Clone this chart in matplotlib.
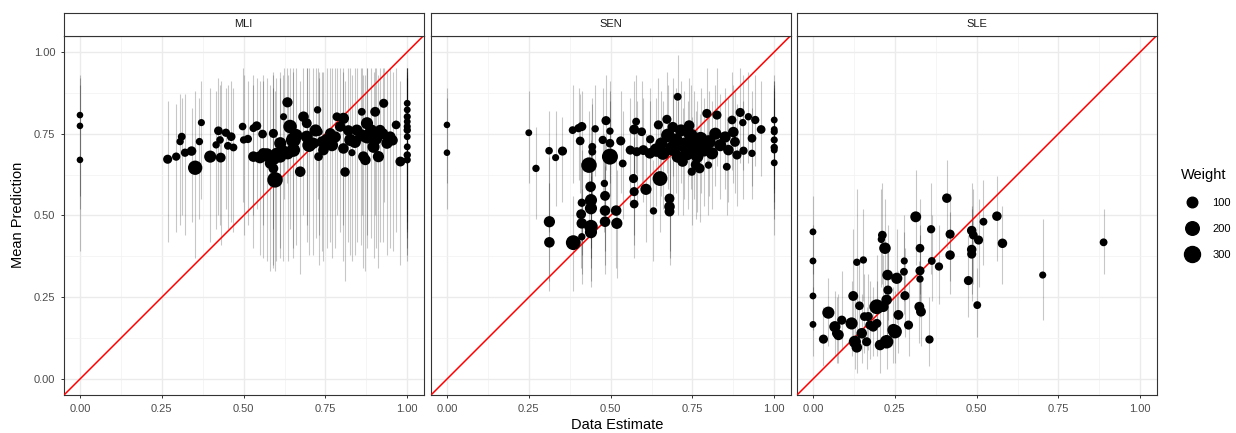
import matplotlib
matplotlib.use("Agg")
import matplotlib.pyplot as plt
from matplotlib.lines import Line2D
import numpy as np

plt.rcParams['font.family'] = ['Liberation Sans', 'DejaVu Sans']

panels = ["MLI", "SEN", "SLE"]

# MLI: data estimate, mean prediction, weight, interval low / high
mli_x = [0.000, 0.000, 0.000, 0.268, 0.294, 0.306, 0.311, 0.321, 0.341, 0.352,
         0.365, 0.371, 0.398, 0.416, 0.423, 0.428, 0.430, 0.446, 0.452, 0.462,
         0.469, 0.497, 0.500, 0.513, 0.530, 0.530, 0.540, 0.550, 0.558, 0.571,
         0.581, 0.591, 0.591, 0.591, 0.596, 0.612, 0.612, 0.622, 0.634, 0.642,
         0.652, 0.652, 0.673, 0.683, 0.693, 0.693, 0.713, 0.726, 0.729, 0.729,
         0.744, 0.754, 0.765, 0.785, 0.795, 0.805, 0.805, 0.810, 0.826, 0.831,
         0.846, 0.861, 0.866, 0.872, 0.877, 0.877, 0.897, 0.902, 0.912, 0.917,
         0.928, 0.938, 0.948, 0.966, 0.979, 1.000, 1.000, 1.000, 1.000, 1.000,
         1.000, 1.000, 1.000, 1.000, 1.000, 0.660, 0.700, 0.720, 0.740, 0.770,
         0.780, 0.820, 0.840, 0.860, 0.890, 0.905, 0.925, 0.955, 0.620, 0.635,
         0.600, 0.560]
mli_y = [0.807, 0.774, 0.670, 0.672, 0.680, 0.726, 0.741, 0.692, 0.697, 0.646,
         0.726, 0.784, 0.680, 0.716, 0.759, 0.731, 0.677, 0.753, 0.713, 0.741,
         0.708, 0.772, 0.731, 0.734, 0.767, 0.680, 0.774, 0.678, 0.749, 0.685,
         0.659, 0.751, 0.675, 0.644, 0.609, 0.680, 0.721, 0.802, 0.846, 0.772,
         0.731, 0.700, 0.634, 0.802, 0.782, 0.741, 0.721, 0.823, 0.756, 0.680,
         0.700, 0.731, 0.751, 0.802, 0.772, 0.797, 0.705, 0.633, 0.731, 0.692,
         0.761, 0.817, 0.680, 0.670, 0.782, 0.741, 0.710, 0.817, 0.680, 0.761,
         0.843, 0.721, 0.741, 0.777, 0.665, 0.843, 0.823, 0.802, 0.787, 0.772,
         0.761, 0.741, 0.710, 0.685, 0.670, 0.745, 0.715, 0.760, 0.725, 0.715,
         0.740, 0.760, 0.725, 0.745, 0.760, 0.735, 0.750, 0.730, 0.700, 0.690,
         0.690, 0.690]
mli_w = [5, 5, 5, 60, 40, 20, 30, 40, 70, 230,
         20, 15, 150, 20, 50, 25, 80, 40, 30, 50,
         30, 25, 20, 40, 30, 100, 60, 150, 50, 200,
         100, 60, 200, 80, 280, 150, 150, 15, 90, 200,
         250, 200, 100, 100, 80, 150, 120, 20, 40, 50,
         100, 150, 100, 50, 100, 120, 100, 70, 150, 15,
         120, 30, 100, 100, 150, 200, 150, 80, 120, 100,
         60, 120, 100, 50, 80, 10, 10, 15, 10, 15,
         20, 10, 10, 20, 15, 180, 200, 150, 120, 150,
         120, 100, 150, 150, 150, 150, 120, 100, 100, 150,
         120, 100]
mli_lo = [0.56, 0.52, 0.39, 0.42, 0.45, 0.47, 0.50, 0.44, 0.48, 0.37,
          0.49, 0.55, 0.42, 0.46, 0.50, 0.47, 0.41, 0.52, 0.46, 0.48,
          0.45, 0.54, 0.44, 0.47, 0.50, 0.40, 0.52, 0.38, 0.47, 0.36,
          0.33, 0.46, 0.35, 0.34, 0.33, 0.37, 0.40, 0.55, 0.60, 0.46,
          0.40, 0.37, 0.32, 0.50, 0.47, 0.42, 0.38, 0.55, 0.44, 0.35,
          0.36, 0.40, 0.42, 0.50, 0.45, 0.47, 0.36, 0.30, 0.38, 0.36,
          0.42, 0.50, 0.34, 0.33, 0.44, 0.40, 0.37, 0.50, 0.34, 0.42,
          0.54, 0.38, 0.40, 0.45, 0.35, 0.55, 0.52, 0.50, 0.48, 0.46,
          0.45, 0.43, 0.40, 0.38, 0.36, 0.41, 0.38, 0.43, 0.39, 0.37,
          0.40, 0.42, 0.38, 0.41, 0.43, 0.40, 0.42, 0.39, 0.36, 0.36,
          0.36, 0.37]
mli_hi = [0.93, 0.92, 0.90, 0.85, 0.84, 0.87, 0.86, 0.87, 0.83, 0.88,
          0.86, 0.91, 0.89, 0.88, 0.92, 0.90, 0.91, 0.89, 0.90, 0.91,
          0.89, 0.95, 0.93, 0.91, 0.93, 0.90, 0.92, 0.91, 0.93, 0.92,
          0.90, 0.94, 0.93, 0.89, 0.88, 0.92, 0.94, 0.95, 0.95, 0.95,
          0.95, 0.94, 0.91, 0.95, 0.95, 0.95, 0.95, 0.95, 0.94, 0.92,
          0.94, 0.95, 0.95, 0.95, 0.95, 0.95, 0.94, 0.91, 0.95, 0.93,
          0.95, 0.95, 0.93, 0.93, 0.95, 0.95, 0.94, 0.95, 0.93, 0.95,
          0.95, 0.94, 0.95, 0.95, 0.91, 0.95, 0.95, 0.95, 0.95, 0.95,
          0.95, 0.94, 0.93, 0.92, 0.92, 0.95, 0.95, 0.95, 0.94, 0.95,
          0.95, 0.95, 0.95, 0.95, 0.95, 0.95, 0.95, 0.94, 0.93, 0.93,
          0.92, 0.91]

# SEN
sen_x = [0.000, 0.000, 0.250, 0.272, 0.312, 0.313, 0.313, 0.332, 0.353, 0.384,
         0.386, 0.402, 0.407, 0.410, 0.412, 0.412, 0.412, 0.412, 0.434, 0.439,
         0.440, 0.440, 0.440, 0.440, 0.444, 0.444, 0.453, 0.476, 0.481, 0.483,
         0.483, 0.483, 0.486, 0.498, 0.498, 0.498, 0.517, 0.519, 0.531, 0.537,
         0.570, 0.572, 0.572, 0.572, 0.578, 0.595, 0.608, 0.621, 0.631, 0.646,
         0.651, 0.672, 0.680, 0.680, 0.680, 0.705, 0.748, 0.772, 0.794, 0.799,
         0.825, 0.855, 0.871, 0.886, 0.896, 0.904, 0.906, 0.921, 0.932, 0.932,
         0.942, 0.960, 1.000, 1.000, 1.000, 1.000, 1.000, 1.000, 1.000, 0.640,
         0.655, 0.660, 0.675, 0.690, 0.700, 0.705, 0.715, 0.725, 0.735, 0.745,
         0.755, 0.765, 0.775, 0.785, 0.800, 0.810, 0.820, 0.835, 0.850, 0.860,
         0.875, 0.880, 0.620, 0.600, 0.580, 0.560, 0.690, 0.740, 0.760, 0.720]
sen_y = [0.777, 0.692, 0.753, 0.644, 0.698, 0.481, 0.418, 0.677, 0.697, 0.761,
         0.417, 0.767, 0.728, 0.504, 0.772, 0.539, 0.476, 0.435, 0.654, 0.588,
         0.547, 0.522, 0.466, 0.449, 0.710, 0.695, 0.765, 0.731, 0.598, 0.560,
         0.515, 0.481, 0.790, 0.758, 0.721, 0.680, 0.515, 0.476, 0.728, 0.659,
         0.613, 0.763, 0.573, 0.535, 0.787, 0.756, 0.580, 0.733, 0.514, 0.777,
         0.613, 0.794, 0.552, 0.527, 0.512, 0.863, 0.634, 0.644, 0.812, 0.654,
         0.807, 0.649, 0.792, 0.685, 0.815, 0.784, 0.698, 0.802, 0.736, 0.690,
         0.792, 0.763, 0.792, 0.763, 0.756, 0.731, 0.708, 0.700, 0.661, 0.700,
         0.720, 0.690, 0.745, 0.705, 0.730, 0.680, 0.760, 0.715, 0.690, 0.745,
         0.715, 0.680, 0.735, 0.700, 0.725, 0.690, 0.750, 0.715, 0.740, 0.700,
         0.755, 0.725, 0.690, 0.700, 0.695, 0.700, 0.770, 0.775, 0.655, 0.665]
sen_w = [5, 5, 10, 20, 25, 120, 100, 15, 60, 30,
         250, 40, 50, 80, 60, 40, 100, 20, 280, 100,
         150, 150, 200, 150, 30, 30, 20, 40, 20, 80,
         100, 100, 60, 20, 50, 300, 100, 120, 60, 30,
         60, 80, 60, 50, 30, 50, 120, 40, 20, 60,
         250, 60, 80, 100, 80, 30, 40, 80, 60, 20,
         60, 30, 50, 60, 60, 20, 40, 20, 50, 20,
         40, 50, 10, 10, 15, 15, 20, 10, 10, 200,
         150, 180, 200, 250, 200, 150, 150, 250, 200, 200,
         220, 150, 200, 180, 200, 150, 150, 150, 120, 100,
         100, 80, 100, 80, 60, 60, 100, 100, 80, 100]
sen_lo = [0.60, 0.52, 0.60, 0.49, 0.45, 0.30, 0.27, 0.53, 0.54, 0.60,
          0.27, 0.61, 0.57, 0.34, 0.63, 0.38, 0.32, 0.29, 0.45, 0.40,
          0.37, 0.34, 0.30, 0.28, 0.56, 0.54, 0.62, 0.57, 0.45, 0.39,
          0.35, 0.32, 0.64, 0.60, 0.56, 0.52, 0.34, 0.31, 0.57, 0.49,
          0.44, 0.61, 0.41, 0.37, 0.63, 0.59, 0.42, 0.57, 0.36, 0.62,
          0.45, 0.63, 0.39, 0.37, 0.35, 0.72, 0.47, 0.48, 0.66, 0.50,
          0.65, 0.50, 0.64, 0.53, 0.66, 0.64, 0.55, 0.66, 0.59, 0.55,
          0.65, 0.62, 0.62, 0.58, 0.57, 0.54, 0.52, 0.49, 0.44, 0.53,
          0.56, 0.52, 0.58, 0.54, 0.57, 0.50, 0.60, 0.55, 0.52, 0.58,
          0.55, 0.51, 0.57, 0.53, 0.56, 0.52, 0.59, 0.55, 0.58, 0.54,
          0.60, 0.57, 0.52, 0.54, 0.53, 0.54, 0.62, 0.62, 0.49, 0.50]
sen_hi = [0.89, 0.86, 0.88, 0.77, 0.82, 0.68, 0.60, 0.82, 0.80, 0.90,
          0.56, 0.89, 0.87, 0.66, 0.88, 0.70, 0.63, 0.58, 0.82, 0.77,
          0.73, 0.70, 0.64, 0.62, 0.86, 0.84, 0.90, 0.89, 0.75, 0.72,
          0.68, 0.65, 0.93, 0.91, 0.88, 0.85, 0.69, 0.64, 0.88, 0.82,
          0.78, 0.91, 0.74, 0.70, 0.93, 0.91, 0.75, 0.89, 0.67, 0.92,
          0.78, 0.94, 0.72, 0.69, 0.67, 0.99, 0.80, 0.81, 0.95, 0.81,
          0.95, 0.80, 0.94, 0.84, 0.95, 0.93, 0.85, 0.94, 0.88, 0.83,
          0.93, 0.91, 0.93, 0.91, 0.91, 0.90, 0.89, 0.88, 0.86, 0.86,
          0.88, 0.85, 0.90, 0.87, 0.89, 0.85, 0.91, 0.88, 0.85, 0.90,
          0.88, 0.85, 0.89, 0.86, 0.88, 0.85, 0.90, 0.87, 0.89, 0.86,
          0.90, 0.88, 0.85, 0.86, 0.85, 0.86, 0.92, 0.92, 0.82, 0.83]

# SLE
sle_x = [0.000, 0.000, 0.000, 0.000, 0.032, 0.047, 0.067, 0.072, 0.078, 0.088,
         0.118, 0.123, 0.128, 0.134, 0.134, 0.142, 0.154, 0.157, 0.164, 0.174,
         0.195, 0.195, 0.205, 0.212, 0.209, 0.215, 0.220, 0.225, 0.225, 0.228,
         0.246, 0.256, 0.261, 0.278, 0.279, 0.281, 0.292, 0.314, 0.327, 0.327,
         0.327, 0.325, 0.330, 0.356, 0.361, 0.363, 0.385, 0.409, 0.419, 0.419,
         0.475, 0.485, 0.490, 0.506, 0.485, 0.485, 0.502, 0.521, 0.562, 0.579,
         0.702, 0.888, 0.229, 0.251, 0.184, 0.169, 0.149]
sle_y = [0.450, 0.361, 0.254, 0.167, 0.122, 0.203, 0.160, 0.140, 0.135, 0.180,
         0.170, 0.254, 0.114, 0.097, 0.357, 0.224, 0.364, 0.191, 0.114, 0.165,
         0.221, 0.170, 0.104, 0.440, 0.427, 0.221, 0.400, 0.242, 0.114, 0.318,
         0.150, 0.308, 0.196, 0.328, 0.361, 0.255, 0.165, 0.496, 0.400, 0.331,
         0.306, 0.221, 0.206, 0.121, 0.458, 0.361, 0.344, 0.553, 0.443, 0.379,
         0.301, 0.454, 0.440, 0.425, 0.396, 0.382, 0.226, 0.481, 0.498, 0.415,
         0.318, 0.418, 0.272, 0.145, 0.160, 0.191, 0.140]
sle_w = [10, 10, 10, 10, 60, 150, 120, 60, 100, 60,
         150, 80, 150, 100, 20, 50, 20, 50, 60, 60,
         250, 60, 100, 50, 20, 100, 130, 100, 200, 100,
         150, 120, 80, 30, 15, 60, 60, 110, 50, 60,
         20, 80, 80, 40, 40, 30, 40, 70, 60, 70,
         60, 70, 50, 60, 70, 60, 30, 30, 70, 70,
         15, 30, 60, 200, 80, 60, 100]
sle_lo = [0.32, 0.25, 0.15, 0.07, 0.04, 0.10, 0.07, 0.05, 0.05, 0.09,
          0.07, 0.12, 0.03, 0.02, 0.22, 0.11, 0.24, 0.08, 0.03, 0.06,
          0.10, 0.07, 0.02, 0.29, 0.28, 0.10, 0.25, 0.12, 0.03, 0.18,
          0.05, 0.17, 0.08, 0.20, 0.24, 0.13, 0.07, 0.35, 0.26, 0.21,
          0.19, 0.11, 0.10, 0.04, 0.32, 0.24, 0.23, 0.40, 0.30, 0.26,
          0.19, 0.30, 0.29, 0.28, 0.26, 0.24, 0.13, 0.35, 0.36, 0.29,
          0.18, 0.32, 0.15, 0.05, 0.07, 0.09, 0.05]
sle_hi = [0.56, 0.47, 0.37, 0.28, 0.22, 0.31, 0.27, 0.25, 0.26, 0.33,
          0.30, 0.46, 0.25, 0.22, 0.58, 0.36, 0.52, 0.32, 0.22, 0.30,
          0.38, 0.30, 0.22, 0.60, 0.58, 0.38, 0.55, 0.40, 0.24, 0.47,
          0.28, 0.46, 0.33, 0.45, 0.50, 0.40, 0.30, 0.64, 0.55, 0.47,
          0.44, 0.36, 0.33, 0.25, 0.60, 0.50, 0.47, 0.67, 0.57, 0.51,
          0.44, 0.60, 0.58, 0.55, 0.53, 0.52, 0.34, 0.61, 0.62, 0.53,
          0.49, 0.52, 0.40, 0.27, 0.28, 0.32, 0.26]

panel_data = {
    "MLI": (mli_x, mli_y, mli_w, mli_lo, mli_hi),
    "SEN": (sen_x, sen_y, sen_w, sen_lo, sen_hi),
    "SLE": (sle_x, sle_y, sle_w, sle_lo, sle_hi),
}

legend_weights = [100, 200, 300]
ticks = [0.00, 0.25, 0.50, 0.75, 1.00]
tick_labels = ["0.00", "0.25", "0.50", "0.75", "1.00"]


def marker_size(w):
    # area grows linearly with weight (px^2 -> pt^2 at 100 dpi)
    w = np.asarray(w, dtype=float)
    return (40 + 0.72 * w) * 0.72 ** 2


W, H = 1236, 433
fig = plt.figure(figsize=(W / 100, H / 100), dpi=100)

lefts = [63.6, 430.6, 796.6]
pw, ph = 360.0, 359.8
bottom = 395.4
strip_h = 23.0

for name, left in zip(panels, lefts):
    ax = fig.add_axes([left / W, 1 - bottom / H, pw / W, ph / H])
    x, y, w, lo, hi = panel_data[name]

    ax.set_xlim(-0.05, 1.05)
    ax.set_ylim(-0.05, 1.05)
    ax.set_xticks(ticks)
    ax.set_yticks(ticks)
    ax.set_xticks([0.125, 0.375, 0.625, 0.875], minor=True)
    ax.set_yticks([0.125, 0.375, 0.625, 0.875], minor=True)
    ax.set_xticklabels(tick_labels)
    ax.set_yticklabels(tick_labels if name == "MLI" else [])

    ax.grid(which="major", color="#EBEBEB", lw=1.0)
    ax.grid(which="minor", color="#F2F2F2", lw=0.5)
    ax.set_axisbelow(True)
    ax.tick_params(which="minor", length=0)
    ax.tick_params(which="major", colors="#333333", labelcolor="#4D4D4D",
                   labelsize=8, length=2.5, width=0.7)
    if name != "MLI":
        ax.tick_params(axis="y", length=0)

    ax.vlines(x, lo, hi, colors="black", alpha=0.22, lw=0.8, zorder=2)
    ax.plot([-0.05, 1.05], [-0.05, 1.05], color="red", lw=1.1, zorder=3)
    ax.scatter(x, y, s=marker_size(w), color="black", edgecolors="none", zorder=4)

    for sp in ax.spines.values():
        sp.set_color("#333333")
        sp.set_linewidth(0.8)

    sax = fig.add_axes([left / W, 1 - (bottom - ph) / H, pw / W, strip_h / H])
    sax.set_xticks([])
    sax.set_yticks([])
    sax.set_facecolor("white")
    for sp in sax.spines.values():
        sp.set_color("#333333")
        sp.set_linewidth(0.8)
    sax.text(0.5, 0.5, name, ha="center", va="center", fontsize=8, color="#1A1A1A",
             transform=sax.transAxes)

fig.text(617 / W, 1 - 425 / H, "Data Estimate", ha="center", va="center", fontsize=10.5)
fig.text(18 / W, 1 - 215 / H, "Mean Prediction", ha="center", va="center",
         rotation=90, fontsize=10.5)

handles = [Line2D([], [], marker="o", linestyle="none", color="black",
                  markersize=np.sqrt(marker_size(v))) for v in legend_weights]
fig.legend(handles, [str(v) for v in legend_weights], title="Weight",
           loc="upper left", bbox_to_anchor=(1181 / W, 1 - 168 / H),
           frameon=False, fontsize=8, title_fontsize=10.5, labelspacing=1.45,
           handletextpad=0.8, borderaxespad=0, borderpad=0, alignment="left")

fig.savefig("out.png", dpi=100)
